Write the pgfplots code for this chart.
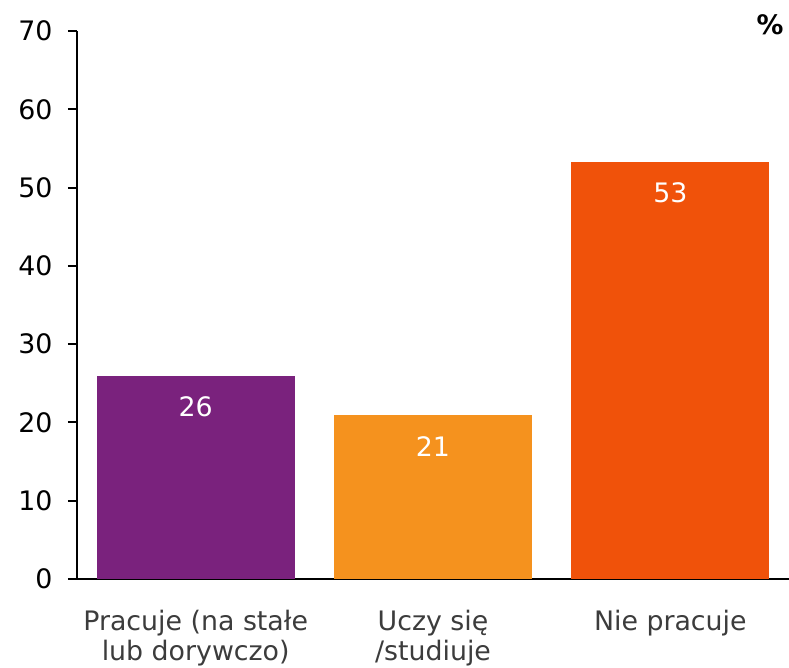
\documentclass[border=0pt]{standalone}
\usepackage{fontspec}
\setmainfont{DejaVu Sans}
\usepackage{pgfplots}
\pgfplotsset{compat=1.18}
\definecolor{cPurple}{HTML}{7A227D}
\definecolor{cOrange}{HTML}{F5921E}
\definecolor{cRed}{HTML}{F0520A}
\definecolor{cLab}{HTML}{3C3C3C}
\newcommand{\fs}{\fontsize{26.8}{30}\selectfont}
\begin{document}
\begin{tikzpicture}[x=1pt,y=1pt]
\useasboundingbox (0,0) rectangle (789,668);
\begin{axis}[
  at={(77pt,89pt)}, anchor=south west,
  scale only axis, width=712pt, height=548pt,
  xmin=-0.5, xmax=2.5, ymin=0, ymax=70,
  axis lines=left, axis line style={-, line width=2pt, black},
  ytick={0,10,...,70},
  xtick={0,1,2},
  xticklabels={{Pracuje (na stałe\\lub dorywczo)},{Uczy się\\/studiuje},{Nie pracuje}},
  xticklabel style={align=center, font=\fs, text=cLab, yshift=-19pt},
  yticklabel style={font=\fs, text=black, xshift=-12pt},
  /pgf/number format/assume math mode=true,
  tick align=outside, major tick length=9pt,
  major y tick style={line width=2pt, black},
  major x tick style={draw=none},
  nodes near coords,
  point meta=explicit symbolic,
  every node near coord/.append style={font=\fs, text=white, anchor=center, yshift=-31pt},
  clip=false,
]
\addplot[ybar, bar width=198pt, bar shift=0pt, fill=cPurple, draw=none] coordinates {(0,25.9) [26]};
\addplot[ybar, bar width=198pt, bar shift=0pt, fill=cOrange, draw=none] coordinates {(1,20.9) [21]};
\addplot[ybar, bar width=198pt, bar shift=0pt, fill=cRed, draw=none] coordinates {(2,53.3) [53]};
\end{axis}
\draw[line width=2pt] (68,89) -- (78,89);
\node[font=\bfseries\fs] at (770,643) {\%};
\end{tikzpicture}
\end{document}
